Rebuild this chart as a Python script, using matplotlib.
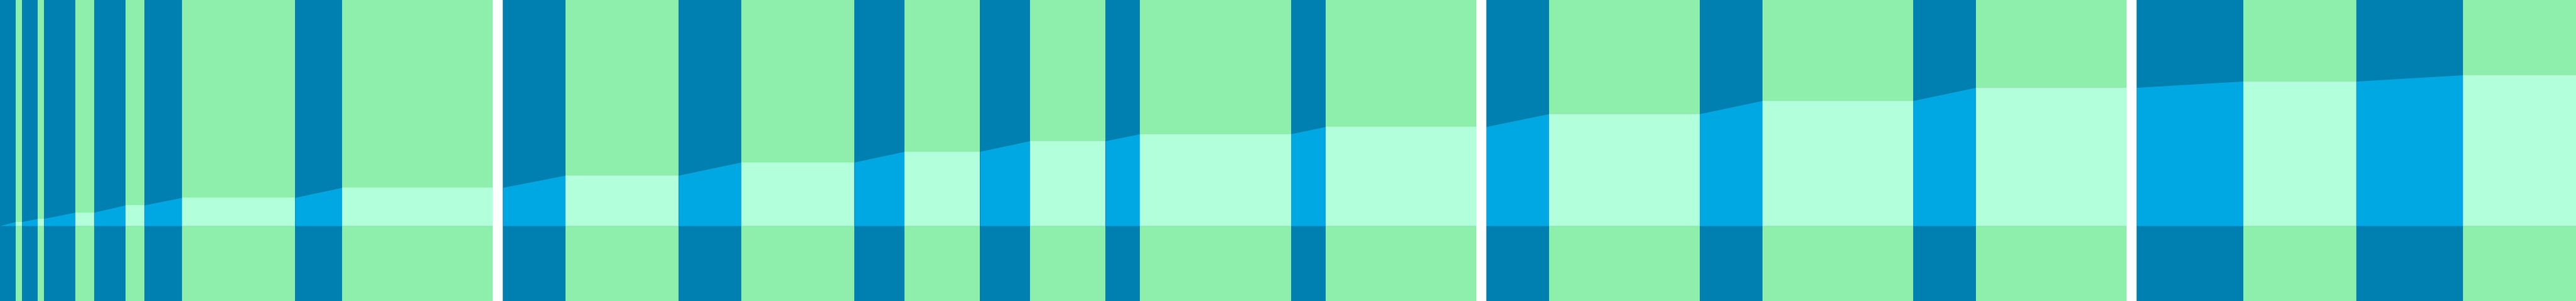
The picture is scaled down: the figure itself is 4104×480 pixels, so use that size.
#!/usr/bin/env python3
import matplotlib
matplotlib.use("Agg")
import matplotlib.pyplot as plt
import numpy as np

# ramp (transition) widths per panel
ramp_widths = [
    [25, 25, 50, 50, 60, 75],
    [100, 100, 80, 80, 55, 55],
    [100, 100, 100],
    [170, 170],
]
# hold widths per panel
hold_widths = [
    [10, 10, 30, 30, 180, 240],
    [180, 180, 120, 120, 240, 240],
    [240, 240, 240],
    [180, 180],
]
# level reached at the end of each ramp (held flat afterwards)
levels = [
    [6.5, 11.5, 21.5, 33, 45, 61],
    [80.5, 101.5, 118.5, 135.5, 146.5, 158],
    [178.5, 199.5, 220.5],
    [230.5, 240.5],
]
panel_gap = 16

ramp_bg = "#0080b0"
ramp_fill = "#00a8e3"
hold_bg = "#8eeeab"
hold_fill = "#b2ffdc"

Y_MIN, Y_MAX = -120, 360


def draw_segment(ax, x0, x1, y0, y1, bg, fill):
    """背景の帯と、その区間の塗りつぶしを描く"""
    ax.axvspan(x0, x1, color=bg, lw=0)
    ax.fill_between([x0, x1], [0, 0], [y0, y1], color=fill, lw=0)


def main():
    total = sum(sum(r) + sum(h) for r, h in zip(ramp_widths, hold_widths))
    total += panel_gap * (len(levels) - 1)

    fig = plt.figure(figsize=(41.04, 4.8), dpi=100, facecolor="white")
    ax = fig.add_axes([0, 0, 1, 1])
    ax.set_facecolor("white")

    x = 0.0
    prev = 0.0
    for p, (ramps, holds, lvls) in enumerate(zip(ramp_widths, hold_widths, levels)):
        if p > 0:
            x += panel_gap  # white gap between panels
        for rw, hw, lv in zip(ramps, holds, lvls):
            draw_segment(ax, x, x + rw, prev, lv, ramp_bg, ramp_fill)
            x += rw
            draw_segment(ax, x, x + hw, lv, lv, hold_bg, hold_fill)
            x += hw
            prev = lv

    ax.set_xlim(0, total)
    ax.set_ylim(Y_MIN, Y_MAX)
    ax.axis("off")

    fig.savefig("out.png", dpi=100, facecolor="white")


if __name__ == "__main__":
    main()
